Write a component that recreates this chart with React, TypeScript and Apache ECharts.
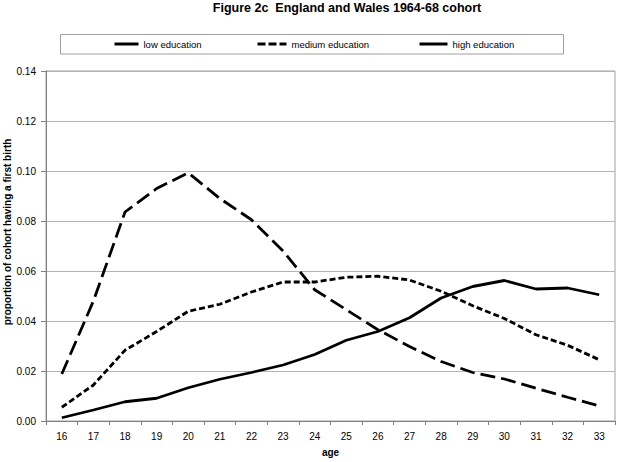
import React, { useEffect, useRef } from "react";
import * as echarts from "echarts";

const ages = ["16","17","18","19","20","21","22","23","24","25","26","27","28","29","30","31","32","33"];
const lowEducation = [0.0188, 0.048, 0.0836, 0.093, 0.0993, 0.089, 0.0805, 0.068, 0.0525, 0.0445, 0.0365, 0.0298, 0.0238, 0.0194, 0.0168, 0.0131, 0.0095, 0.006];
const mediumEducation = [0.0055, 0.0144, 0.0283, 0.0358, 0.0439, 0.0467, 0.0516, 0.0556, 0.0556, 0.0575, 0.0579, 0.0564, 0.0519, 0.0461, 0.041, 0.0345, 0.0303, 0.0245];
const highEducation = [0.0013, 0.0044, 0.0077, 0.0091, 0.0133, 0.0167, 0.0194, 0.0224, 0.0266, 0.0323, 0.0358, 0.0413, 0.0492, 0.0538, 0.0562, 0.0528, 0.0532, 0.0505];
const seriesNames = ["low education", "medium education", "high education"];

const FONT = "Liberation Sans, Arial, sans-serif";

function legendFor(name: string, left: number, width: number, dash: any) {
  return {
    data: [name],
    left,
    top: 39,
    itemWidth: width,
    itemHeight: 10,
    itemStyle: { color: "rgba(0,0,0,0)", borderWidth: 0, opacity: 0 },
    lineStyle: { type: dash, width: 3, color: "#000" },
    textStyle: { fontSize: 9.5, color: "#000", fontFamily: FONT },
    padding: 0,
    selectedMode: false,
    z: 5,
  };
}

export default function App() {
  const ref = useRef<HTMLDivElement>(null);
  useEffect(() => {
    if (!ref.current) return;
    const chart = echarts.init(ref.current, undefined, { renderer: "svg" });
    chart.setOption({
      animation: false,
      backgroundColor: "#ffffff",
      textStyle: { fontFamily: FONT },
      title: {
        text: "Figure 2c  England and Wales 1964-68 cohort",
        left: 347,
        textAlign: "center",
        top: 1,
        padding: 0,
        textStyle: { fontSize: 12.5, fontWeight: "bold", color: "#000", fontFamily: FONT },
      },
      graphic: [
        {
          type: "rect",
          shape: { x: 60.5, y: 34.5, width: 503, height: 19.5 },
          style: { fill: "#fff", stroke: "#a0a0a0", lineWidth: 1 },
          z: 0,
        },
        {
          type: "text",
          x: 7,
          y: 232,
          rotation: Math.PI / 2,
          style: {
            text: "proportion of cohort having a first birth",
            fontSize: 10,
            fontWeight: "bold",
            fontFamily: FONT,
            fill: "#000",
            align: "center",
            verticalAlign: "middle",
          },
        },
      ],
      legend: [
        legendFor(seriesNames[0], 113, 24, "solid"),
        legendFor(seriesNames[1], 256, 29, [8, 3]),
        legendFor(seriesNames[2], 418, 28, "solid"),
      ],
      grid: {
        left: 46,
        right: 4,
        top: 71,
        bottom: 41,
        show: true,
        borderColor: "#a0a0a0",
        borderWidth: 1,
      },
      xAxis: {
        type: "category",
        data: ages,
        boundaryGap: true,
        name: "age",
        nameLocation: "middle",
        nameGap: 26,
        nameTextStyle: { fontSize: 10, fontWeight: "bold", color: "#000", fontFamily: FONT },
        axisLine: { lineStyle: { color: "#808080", width: 1 } },
        axisTick: { show: true, length: 4, lineStyle: { color: "#808080" } },
        axisLabel: { fontSize: 10, color: "#000", margin: 10, fontFamily: FONT },
        splitLine: { show: false },
      },
      yAxis: {
        type: "value",
        min: 0,
        max: 0.14,
        interval: 0.02,
        axisLine: { show: true, lineStyle: { color: "#808080", width: 1 } },
        axisTick: { show: true, length: 5, lineStyle: { color: "#808080" } },
        axisLabel: { fontSize: 10, color: "#000", margin: 10, formatter: (v: number) => v.toFixed(2), fontFamily: FONT },
        splitLine: { show: true, lineStyle: { color: "#b4b4b4", width: 1 } },
      },
      series: [
        {
          name: seriesNames[0],
          type: "line",
          data: lowEducation,
          symbol: "none",
          itemStyle: { color: "#000" },
          lineStyle: { color: "#000", width: 2.8, type: [15, 6] },
        },
        {
          name: seriesNames[1],
          type: "line",
          data: mediumEducation,
          symbol: "none",
          itemStyle: { color: "#000" },
          lineStyle: { color: "#000", width: 2.8, type: [6, 3] },
        },
        {
          name: seriesNames[2],
          type: "line",
          data: highEducation,
          symbol: "none",
          itemStyle: { color: "#000" },
          lineStyle: { color: "#000", width: 2.8, type: "solid" },
        },
      ],
    });
    return () => chart.dispose();
  }, []);
  return <div ref={ref} style={{ width: 619, height: 462, position: "absolute", left: 0, top: 0 }} />;
}
